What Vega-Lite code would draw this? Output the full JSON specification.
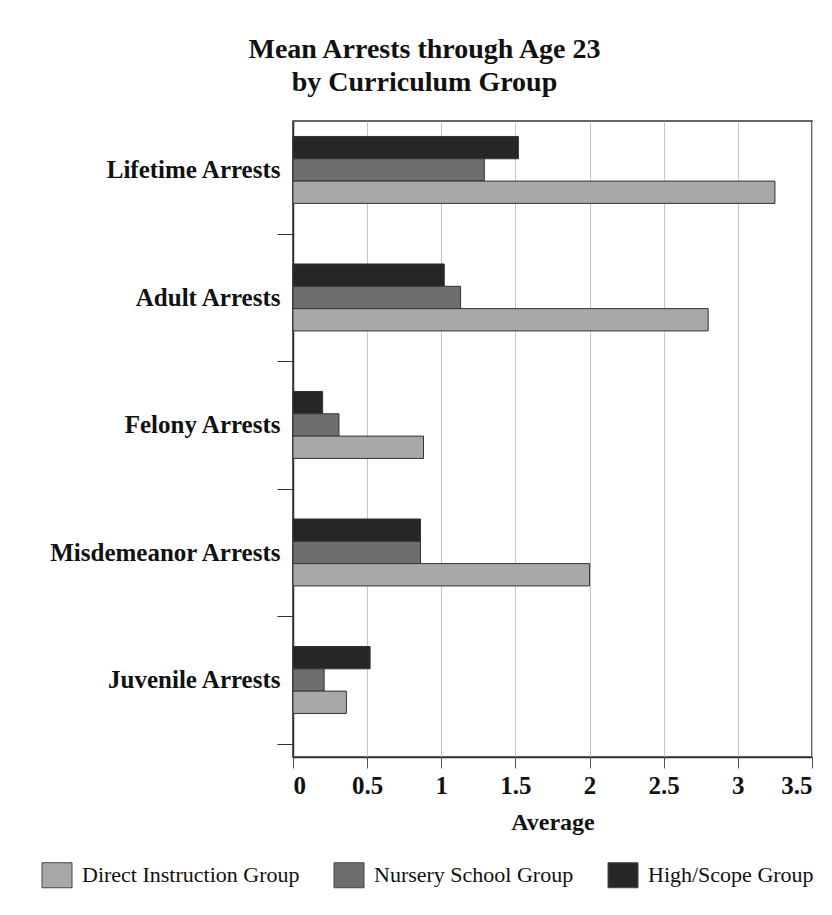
{
  "$schema": "https://vega.github.io/schema/vega-lite/v6.json",
  "width": 519,
  "height": 636,
  "padding": {"left": 5, "top": 36, "right": 5, "bottom": 5},
  "background": "#ffffff",
  "title": {
    "text": ["Mean Arrests through Age 23", "by Curriculum Group"],
    "font": "Liberation Serif",
    "fontSize": 28,
    "fontWeight": "bold",
    "lineHeight": 33,
    "color": "#111111",
    "anchor": "middle",
    "frame": "bounds",
    "dx": 15,
    "offset": 24
  },
  "data": {
    "values": [
      {"measure": "Lifetime Arrests", "group": "High/Scope Group", "value": 1.52},
      {"measure": "Lifetime Arrests", "group": "Nursery School Group", "value": 1.29},
      {"measure": "Lifetime Arrests", "group": "Direct Instruction Group", "value": 3.25},
      {"measure": "Adult Arrests", "group": "High/Scope Group", "value": 1.02},
      {"measure": "Adult Arrests", "group": "Nursery School Group", "value": 1.13},
      {"measure": "Adult Arrests", "group": "Direct Instruction Group", "value": 2.8},
      {"measure": "Felony Arrests", "group": "High/Scope Group", "value": 0.2},
      {"measure": "Felony Arrests", "group": "Nursery School Group", "value": 0.31},
      {"measure": "Felony Arrests", "group": "Direct Instruction Group", "value": 0.88},
      {"measure": "Misdemeanor Arrests", "group": "High/Scope Group", "value": 0.86},
      {"measure": "Misdemeanor Arrests", "group": "Nursery School Group", "value": 0.86},
      {"measure": "Misdemeanor Arrests", "group": "Direct Instruction Group", "value": 2.0},
      {"measure": "Juvenile Arrests", "group": "High/Scope Group", "value": 0.52},
      {"measure": "Juvenile Arrests", "group": "Nursery School Group", "value": 0.21},
      {"measure": "Juvenile Arrests", "group": "Direct Instruction Group", "value": 0.36}
    ]
  },
  "mark": {"type": "bar", "stroke": "#333333", "strokeWidth": 1},
  "encoding": {
    "y": {
      "field": "measure",
      "type": "nominal",
      "sort": ["Lifetime Arrests", "Adult Arrests", "Felony Arrests", "Misdemeanor Arrests", "Juvenile Arrests"],
      "scale": {"paddingInner": 0.475, "paddingOuter": 0.2315, "align": 0.262},
      "axis": {
        "title": null,
        "labelFont": "Liberation Serif",
        "labelFontSize": 25,
        "labelFontWeight": "bold",
        "labelColor": "#111111",
        "labelLimit": 0,
        "tickSize": 16,
        "tickColor": "#333333",
        "tickOffset": 63.75,
        "labelOffset": -63.75,
        "labelPadding": -3,
        "domainColor": "#333333",
        "domainWidth": 1.5,
        "minExtent": 288,
        "maxExtent": 288
      }
    },
    "yOffset": {
      "field": "group",
      "type": "nominal",
      "sort": ["High/Scope Group", "Nursery School Group", "Direct Instruction Group"],
      "scale": {"paddingInner": 0, "paddingOuter": 0}
    },
    "x": {
      "field": "value",
      "type": "quantitative",
      "scale": {"domain": [0, 3.5], "nice": false},
      "axis": {
        "title": "Average",
        "titleFont": "Liberation Serif",
        "titleFontSize": 24,
        "titleFontWeight": "bold",
        "titleColor": "#111111",
        "titlePadding": 12,
        "values": [0, 0.5, 1, 1.5, 2, 2.5, 3, 3.5],
        "format": "~g",
        "labelFont": "Liberation Serif",
        "labelFontSize": 25,
        "labelFontWeight": "bold",
        "labelColor": "#111111",
        "labelPadding": 5,
        "tickSize": 11,
        "tickColor": "#555555",
        "domainColor": "#333333",
        "domainWidth": 1.5,
        "grid": true,
        "gridColor": "#c4c4c4",
        "gridWidth": 1
      }
    },
    "color": {
      "field": "group",
      "type": "nominal",
      "sort": ["Direct Instruction Group", "Nursery School Group", "High/Scope Group"],
      "scale": {
        "domain": ["Direct Instruction Group", "Nursery School Group", "High/Scope Group"],
        "range": ["#a8a8a8", "#6e6e6e", "#262626"]
      },
      "legend": {
        "title": null,
        "orient": "none",
        "direction": "horizontal",
        "legendX": -249,
        "legendY": 741,
        "symbolType": "M-1.2,-1H1.2V1H-1.2Z",
        "symbolSize": 625,
        "symbolStrokeColor": "#444444",
        "symbolStrokeWidth": 1,
        "labelFont": "Liberation Serif",
        "labelFontSize": 22,
        "labelColor": "#111111",
        "labelOffset": 12,
        "columnPadding": 32,
        "labelLimit": 0
      }
    }
  },
  "config": {
    "view": {"stroke": "#333333", "strokeWidth": 1.5}
  }
}
